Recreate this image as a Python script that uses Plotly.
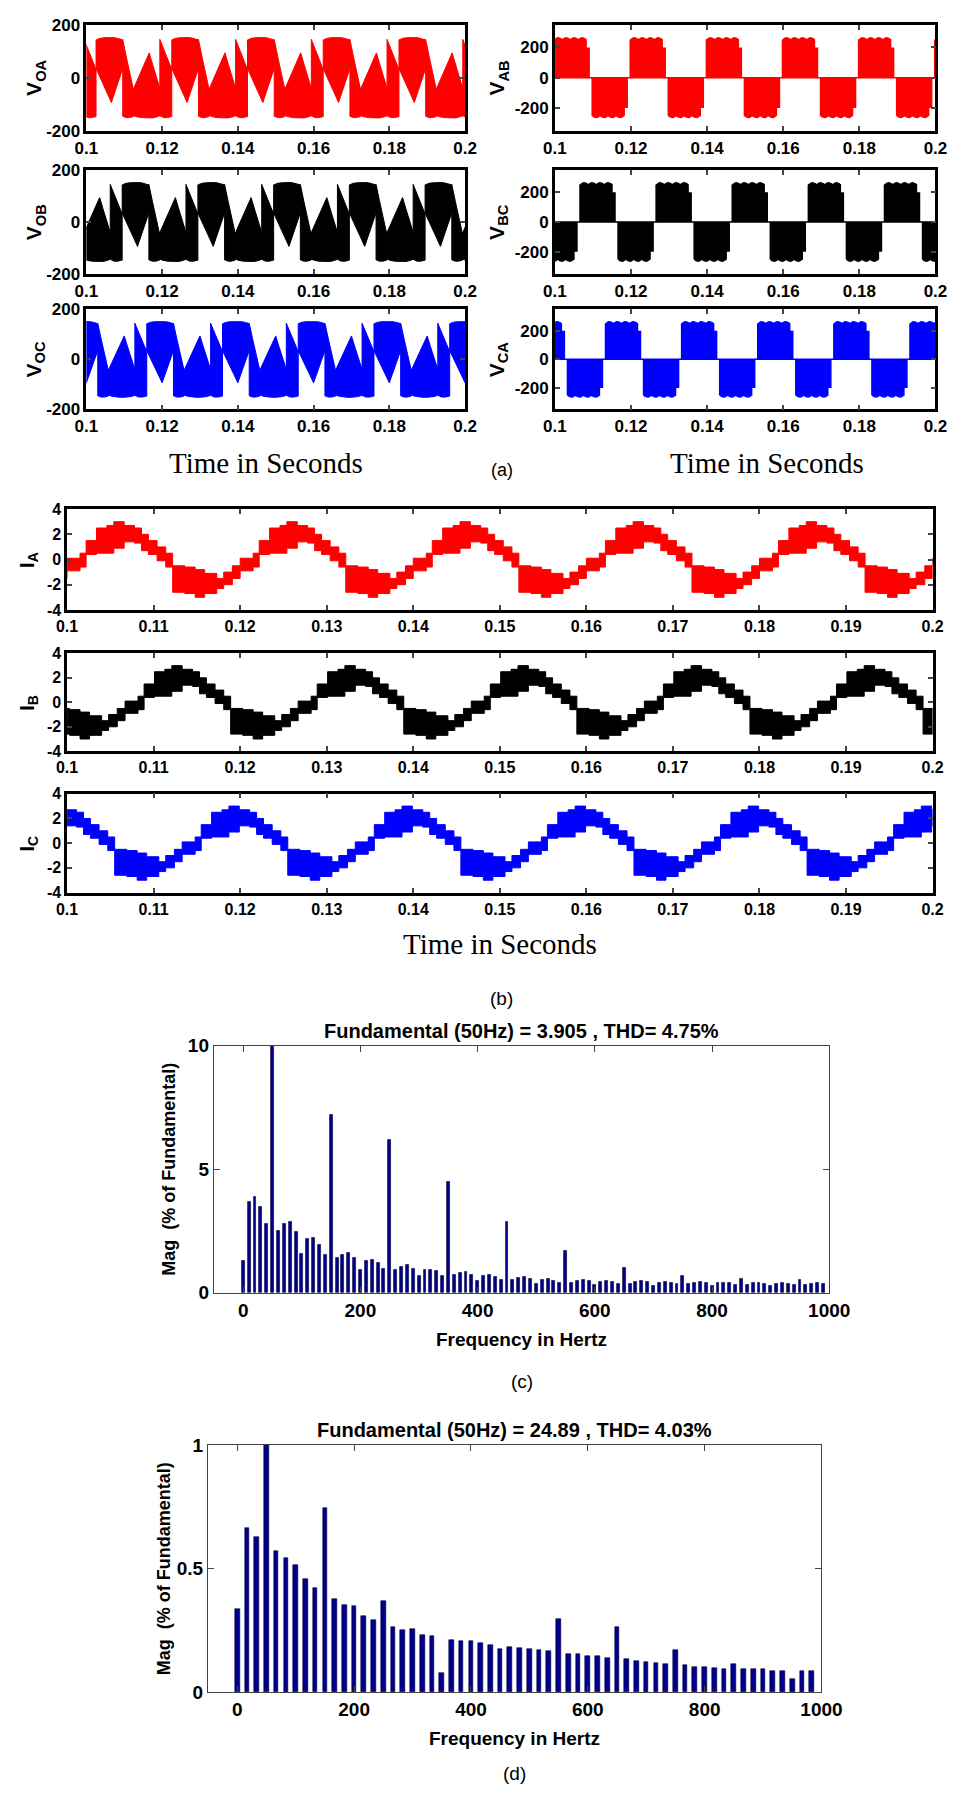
import plotly.graph_objects as go

W, H = 970, 1798

# ---------------- data ----------------
# Phase voltage (V_OA, V_OB, V_OC): envelope of the switched waveform over one
# 20 ms cycle, time in ms from the start of the cycle, volts
VO_T = [0.0, 1.0, 2.0, 3.15,
        3.15, 4.2, 5.2, 6.2, 7.2, 8.2, 9.2, 10.2,
        10.2, 11.1, 12.0, 13.0,
        13.0, 14.0, 15.1, 16.1, 17.2, 18.1, 19.0, 20.0]
VO_UP = [145, 110, 70, 31,
         143, 149, 151, 152, 152, 151, 148, 143,
         145, 82, 20, -44,
         -44, -11, 25, 60, 94, 50, 5, -40]
VO_LO = [-146, -151, -151, -147,
         35, 2, -30, -62, -94, -50, -8, 35,
         -146, -151, -151, -147,
         -143, -148, -151, -152, -152, -152, -149, -144]
VO_START = [0.0994, 0.1063, 0.1128]

# Line voltage (V_AB, V_BC, V_CA): envelope over one cycle, ms / volts
VL_T = [0.0, 0.35, 0.7, 1.05, 1.4, 1.75, 2.1, 2.45, 2.8, 3.15, 3.5, 3.85, 4.2,
        4.55, 4.9, 5.25, 5.6, 5.95, 6.3, 6.65, 7.0, 7.35, 7.7, 8.05, 8.4, 8.4, 9.2, 9.2, 10.0,
        10.0, 10.35, 10.7, 11.05, 11.4, 11.75, 12.1, 12.45, 12.8, 13.15, 13.5, 13.85, 14.2,
        14.55, 14.9, 15.25, 15.6, 15.95, 16.3, 16.65, 17.0, 17.35, 17.7, 18.05, 18.4, 18.4,
        19.2, 19.2, 20.0]
VL_UP = [248, 258, 262, 264, 262, 258, 250, 258, 262, 264, 262, 258, 250,
         258, 262, 264, 262, 258, 250, 258, 262, 264, 262, 258, 250, 195, 195, 0, 0,
         0, 0, 0, 0, 0, 0, 0, 0, 0, 0, 0, 0, 0,
         0, 0, 0, 0, 0, 0, 0, 0, 0, 0, 0, 0, 0,
         0, 0, 0]
VL_LO = [0, 0, 0, 0, 0, 0, 0, 0, 0, 0, 0, 0, 0,
         0, 0, 0, 0, 0, 0, 0, 0, 0, 0, 0, 0, 0, 0, 0, 0,
         -248, -258, -262, -264, -262, -258, -250, -258, -262, -264, -262, -258, -250,
         -258, -262, -264, -262, -258, -250, -258, -262, -264, -262, -258, -250, -195,
         -195, 0, 0]
VL_START = [0.0998, 0.1066, 0.1133]

# Phase current (I_A, I_B, I_C): stepped band over one cycle, ms / amperes
I_T = [0.0, 1.5, 1.5, 2.2, 2.2, 3.4, 3.4, 4.6, 4.6, 5.4, 5.4, 6.6, 6.6, 7.8, 7.8,
       8.6, 8.6, 9.4, 9.4, 10.4, 10.4, 11.4, 11.4, 12.2, 12.2, 13.6, 13.6, 14.8, 14.8,
       15.9, 15.9, 17.3, 17.3, 18.1, 18.1, 19.1, 19.1, 20.0]
I_UP = [0.1, 0.1, 0.5, 0.5, 1.5, 1.5, 2.5, 2.5, 2.7, 2.7, 3.0, 3.0, 2.7, 2.7, 2.5, 2.5,
        2.0, 2.0, 1.5, 1.5, 1.0, 1.0, 0.5, 0.5, -0.5, -0.5, -0.6, -0.6, -0.8, -0.8,
        -1.1, -1.1, -1.5, -1.5, -1.0, -1.0, -0.5, -0.5]
I_LO = [-0.9, -0.9, -0.6, -0.6, 0.4, 0.4, 0.5, 0.5, 0.5, 0.5, 0.9, 0.9, 1.4, 1.4, 1.3, 1.3,
        0.7, 0.7, 0.4, 0.4, -0.1, -0.1, -0.6, -0.6, -2.6, -2.6, -2.7, -2.7, -3.0, -3.0,
        -2.7, -2.7, -2.3, -2.3, -2.0, -2.0, -1.5, -1.5]
I_START = [0.1000, 0.1067, 0.1133]

# Harmonic spectrum (c): magnitude, % of fundamental, 10 Hz bins 0..990 Hz
FFT_C_FREQ = list(range(0, 1000, 10))
FFT_C_MAG = [1.29, 3.70, 3.90, 3.49, 2.80, 100.0, 2.52, 2.80, 2.86, 2.48,
             1.60, 2.20, 2.21, 1.94, 1.54, 7.21, 1.42, 1.56, 1.64, 1.43,
             0.95, 1.31, 1.35, 1.21, 0.97, 6.18, 0.94, 1.06, 1.13, 0.97,
             0.68, 0.93, 0.94, 0.88, 0.70, 4.50, 0.72, 0.80, 0.84, 0.74,
             0.49, 0.70, 0.73, 0.65, 0.53, 2.88, 0.53, 0.62, 0.66, 0.58,
             0.38, 0.52, 0.55, 0.50, 0.42, 1.71, 0.42, 0.50, 0.52, 0.47,
             0.33, 0.45, 0.48, 0.44, 0.38, 1.01, 0.38, 0.45, 0.47, 0.43,
             0.30, 0.42, 0.45, 0.41, 0.35, 0.70, 0.35, 0.42, 0.44, 0.40,
             0.28, 0.40, 0.42, 0.39, 0.33, 0.58, 0.33, 0.40, 0.42, 0.38,
             0.27, 0.38, 0.40, 0.37, 0.31, 0.52, 0.31, 0.38, 0.40, 0.37]

# Harmonic spectrum (d): magnitude, % of fundamental, 50/3 Hz bins
FFT_D_FREQ = [k * 50 / 3 for k in range(60)]
FFT_D_MAG = [0.338, 0.663, 0.629, 100.0, 0.573, 0.542, 0.516, 0.456, 0.423, 0.745,
             0.378, 0.354, 0.350, 0.306, 0.290, 0.367, 0.265, 0.253, 0.256, 0.232,
             0.225, 0.078, 0.211, 0.208, 0.207, 0.198, 0.192, 0.175, 0.183, 0.179,
             0.175, 0.172, 0.166, 0.294, 0.156, 0.154, 0.146, 0.145, 0.139, 0.264,
             0.134, 0.127, 0.122, 0.117, 0.114, 0.171, 0.109, 0.103, 0.103, 0.097,
             0.095, 0.113, 0.092, 0.092, 0.092, 0.086, 0.086, 0.052, 0.086, 0.086]

T_TICKS_A = [0.1, 0.12, 0.14, 0.16, 0.18, 0.2]
T_LABELS_A = ["0.1", "0.12", "0.14", "0.16", "0.18", "0.2"]
T_TICKS_B = [0.1, 0.11, 0.12, 0.13, 0.14, 0.15, 0.16, 0.17, 0.18, 0.19, 0.2]
T_LABELS_B = ["0.1", "0.11", "0.12", "0.13", "0.14", "0.15", "0.16", "0.17", "0.18", "0.19", "0.2"]

COLORS = ["#ff0000", "#000000", "#0000ff"]
BAR_COLOR = "#00008b"

SANS = "Liberation Sans, Arial, sans-serif"
NARROW = "Liberation Sans Narrow, Arial Narrow, Liberation Sans, sans-serif"
SERIF = "Liberation Serif, Times New Roman, serif"


def band(t_ms, up, lo, start, period=0.02, n0=-2, n1=7):
    """Closed outline between upper and lower envelope, repeated each cycle."""
    xs, yu, yl = [], [], []
    for k in range(n0, n1):
        base = start + k * period
        for t, u, l in zip(t_ms, up, lo):
            xs.append(base + t / 1000.0)
            yu.append(u)
            yl.append(l)
    return xs + xs[::-1], yu + yl[::-1]


def dom_x(p0, p1):
    return [p0 / W, p1 / W]


def dom_y(top, bottom):
    return [1 - bottom / H, 1 - top / H]


def label(text, x, y, font, angle=0):
    return dict(text=text, x=x / W, y=1 - y / H, xref="paper", yref="paper",
                xanchor="center", yanchor="middle", textangle=angle,
                showarrow=False, font=font)


fig = go.Figure()
layout = {}
annotations = []

axis_common = dict(showline=True, linecolor="black", mirror="ticks", ticks="inside",
                   showgrid=False, zeroline=False, fixedrange=True)


def add_axes(i, xdom, ydom, xr, yr, xt, xl, yt, yl, tickfont, lw=2.5, tl=5):
    xa = "xaxis" if i == 1 else f"xaxis{i}"
    ya = "yaxis" if i == 1 else f"yaxis{i}"
    layout[xa] = dict(axis_common, domain=xdom, range=xr, tickvals=xt, ticktext=xl,
                      anchor=f"y{i}" if i > 1 else "y", linewidth=lw, tickwidth=lw * 0.8,
                      ticklen=tl, tickfont=tickfont)
    layout[ya] = dict(axis_common, domain=ydom, range=yr, tickvals=yt, ticktext=yl,
                      anchor=f"x{i}" if i > 1 else "x", linewidth=lw, tickwidth=lw * 0.8,
                      ticklen=tl, tickfont=tickfont)


def refs(i):
    return ("x" if i == 1 else f"x{i}", "y" if i == 1 else f"y{i}")


tf_a = dict(family=SANS, size=17, color="black", weight="bold")
tf_b = dict(family=SANS, size=16, color="black", weight="bold")
f_v = dict(family=SANS, size=21, color="black")
f_time = dict(family=SERIF, size=29, color="black")

rows_a = [(15, 122), (162, 267), (303, 404)]
idx = 0

# ---- (a) phase voltages, left column ----
names_o = ["OA", "OB", "OC"]
for r, (top, bot) in enumerate(rows_a):
    idx += 1
    add_axes(idx, dom_x(77, 469), dom_y(top, bot), [0.1, 0.2], [-200, 200],
             T_TICKS_A, T_LABELS_A, [-200, 0, 200], ["-200", "0", "200"], tf_a)
    x, y = band(VO_T, VO_UP, VO_LO, VO_START[r])
    xr, yr = refs(idx)
    fig.add_trace(go.Scatter(x=x, y=y, fill="toself", fillcolor=COLORS[r], mode="lines",
                             line=dict(color=COLORS[r], width=1), xaxis=xr, yaxis=yr,
                             hoverinfo="skip", showlegend=False))
    annotations.append(label(f"<b>V<sub>{names_o[r]}</sub></b>", 24, (top + bot) / 2, f_v, -90))

# ---- (a) line voltages, right column ----
names_l = ["AB", "BC", "CA"]
for r, (top, bot) in enumerate(rows_a):
    idx += 1
    add_axes(idx, dom_x(562, 956), dom_y(top, bot), [0.1, 0.2], [-350, 350],
             T_TICKS_A, T_LABELS_A, [-200, 0, 200], ["-200", "0", "200"], tf_a)
    x, y = band(VL_T, VL_UP, VL_LO, VL_START[r])
    xr, yr = refs(idx)
    fig.add_trace(go.Scatter(x=x, y=y, fill="toself", fillcolor=COLORS[r], mode="lines",
                             line=dict(color=COLORS[r], width=1.5), xaxis=xr, yaxis=yr,
                             hoverinfo="skip", showlegend=False))
    annotations.append(label(f"<b>V<sub>{names_l[r]}</sub></b>", 503, (top + bot) / 2, f_v, -90))

annotations.append(label("Time in Seconds", 263, 458, f_time))
annotations.append(label("Time in Seconds", 782, 458, f_time))
annotations.append(label("(a)", 507, 465, dict(family=SANS, size=18, color="black")))

# ---- (b) phase currents ----
rows_b = [(505, 607), (651, 750), (793, 893)]
names_i = ["A", "B", "C"]
for r, (top, bot) in enumerate(rows_b):
    idx += 1
    add_axes(idx, dom_x(57, 953), dom_y(top, bot), [0.1, 0.2], [-4, 4],
             T_TICKS_B, T_LABELS_B, [-4, -2, 0, 2, 4], ["-4", "-2", "0", "2", "4"], tf_b)
    x, y = band(I_T, I_UP, I_LO, I_START[r])
    xr, yr = refs(idx)
    fig.add_trace(go.Scatter(x=x, y=y, fill="toself", fillcolor=COLORS[r], mode="lines",
                             line=dict(color=COLORS[r], width=1), xaxis=xr, yaxis=yr,
                             hoverinfo="skip", showlegend=False))
    annotations.append(label(f"<b>I<sub>{names_i[r]}</sub></b>", 17, (top + bot) / 2,
                             dict(family=SANS, size=20, color="black"), -90))

annotations.append(label("Time in Seconds", 505, 945, f_time))
annotations.append(label("(b)", 507, 1000, dict(family=NARROW, size=19, color="black")))

# ---- (c), (d) harmonic spectra ----
tf_c = dict(family=NARROW, size=19, color="black", weight="bold")
f_title = dict(family=NARROW, size=20, color="black")
specs = [
    (FFT_C_FREQ, FFT_C_MAG, (1048, 1298), (209, 846), [0, 10], [0, 5, 10], ["0", "5", "10"],
     "Fundamental (50Hz) = 3.905 , THD= 4.75%", 5.0, "(c)", 1388),
    (FFT_D_FREQ, FFT_D_MAG, (1452, 1702), (203, 838), [0, 1], [0, 0.5, 1], ["0", "0.5", "1"],
     "Fundamental (50Hz) = 24.89 , THD= 4.03%", 8.0, "(d)", 1784),
]
for freq, mag, (top, bot), (left, right), yr_, yt, yl, title, bw, tag, tagy in specs:
    idx += 1
    add_axes(idx, dom_x(left, right), dom_y(top, bot), [-50, 1000], yr_,
             [0, 200, 400, 600, 800, 1000], ["0", "200", "400", "600", "800", "1000"],
             yt, yl, tf_c, lw=1.2, tl=6)
    layout[f"xaxis{idx}"]["linecolor"] = "#444444"
    layout[f"yaxis{idx}"]["linecolor"] = "#444444"
    xr, yr = refs(idx)
    fig.add_trace(go.Bar(x=freq, y=mag, width=bw, marker=dict(color=BAR_COLOR,
                         line=dict(color="#000040", width=0.6)),
                         xaxis=xr, yaxis=yr, hoverinfo="skip", showlegend=False))
    annotations.append(label(f"<b>{title}</b>", (left + right) / 2, top - 15, f_title))
    annotations.append(label("<b>Mag  (% of Fundamental)</b>", left - 46, (top + bot) / 2,
                             dict(family=SANS, size=18, color="black"), -90))
    annotations.append(label("<b>Frequency in Hertz</b>", (left + right) / 2, bot + 47,
                             dict(family=NARROW, size=19, color="black")))
    annotations.append(label(tag, (left + right) / 2, tagy,
                             dict(family=NARROW, size=19, color="black")))

layout.update(width=W, height=H, margin=dict(l=0, r=0, t=0, b=0),
              paper_bgcolor="white", plot_bgcolor="white", bargap=0,
              annotations=annotations)
fig.update_layout(**layout)
fig.write_html("out.html")
